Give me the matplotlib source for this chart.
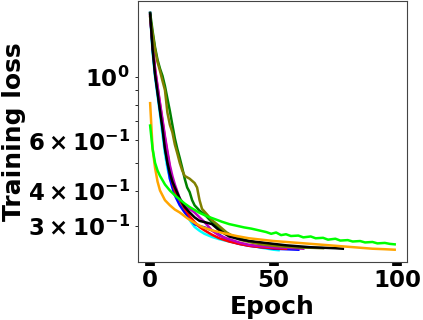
import matplotlib
matplotlib.use('Agg')
import matplotlib.pyplot as plt

plt.rcParams['font.weight'] = 'bold'
plt.rcParams['axes.labelweight'] = 'bold'
plt.rcParams['mathtext.default'] = 'regular'

# epochs / losses, one run per colour
ep_cyan = [0, 1, 2, 3, 4, 5, 6, 7, 8, 9, 10, 12, 14, 16, 18, 20, 22, 25, 28, 32, 36, 40, 45, 50, 52]
loss_cyan = [1.66, 1.22, 1.0, 0.86, 0.74, 0.63, 0.54, 0.48, 0.44, 0.42, 0.40, 0.37, 0.34, 0.315, 0.298,
             0.289, 0.282, 0.275, 0.27, 0.265, 0.261, 0.257, 0.252, 0.248, 0.247]

ep_blue = [0, 1, 2, 3, 4, 5, 6, 7, 8, 9, 10, 12, 14, 16, 18, 20, 22, 25, 28, 32, 36, 40, 45, 50, 55, 60]
loss_blue = [1.68, 1.27, 1.03, 0.89, 0.77, 0.67, 0.57, 0.50, 0.44, 0.41, 0.385, 0.355, 0.335, 0.32, 0.305,
             0.30, 0.297, 0.29, 0.28, 0.266, 0.26, 0.256, 0.253, 0.25, 0.249, 0.248]

ep_red = [0, 1, 2, 3, 4, 5, 6, 7, 8, 9, 10, 12, 14, 16, 18, 20, 22, 25, 28, 32, 36, 40, 45, 50, 55]
loss_red = [1.65, 1.3, 1.06, 0.92, 0.80, 0.70, 0.61, 0.54, 0.48, 0.43, 0.40, 0.37, 0.345, 0.325, 0.31,
            0.298, 0.29, 0.28, 0.272, 0.265, 0.26, 0.256, 0.253, 0.251, 0.25]

ep_magenta = [0, 1, 2, 3, 4, 5, 6, 7, 8, 9, 10, 12, 14, 16, 18, 20, 22, 25, 28, 32, 36, 40, 45, 50, 55, 62]
loss_magenta = [1.64, 1.3, 1.07, 0.93, 0.81, 0.71, 0.62, 0.55, 0.49, 0.45, 0.42, 0.375, 0.355, 0.345, 0.335,
                0.322, 0.31, 0.29, 0.278, 0.27, 0.263, 0.258, 0.255, 0.253, 0.252, 0.25]

ep_green = [0, 1, 2, 3, 4, 5, 6, 7, 8, 9, 10, 11, 12, 13, 14, 15, 16, 17, 18, 20, 22, 25, 28, 32, 36, 40,
            45, 50, 55, 60, 65]
loss_green = [1.68, 1.45, 1.27, 1.15, 1.07, 1.01, 0.93, 0.84, 0.76, 0.68, 0.61, 0.56, 0.52, 0.48, 0.44,
              0.41, 0.395, 0.37, 0.355, 0.34, 0.33, 0.31, 0.295, 0.28, 0.272, 0.266, 0.261, 0.258,
              0.255, 0.253, 0.252]

ep_olive = [0, 1, 2, 3, 4, 5, 6, 7, 8, 9, 10, 11, 12, 13, 14, 16, 18, 19, 20, 21, 23, 25, 27, 29, 31, 34,
            37, 41, 45, 50, 55, 60, 65, 70]
loss_olive = [1.62, 1.42, 1.25, 1.13, 1.05, 0.97, 0.90, 0.75, 0.68, 0.64, 0.58, 0.54, 0.50, 0.47, 0.45,
              0.44, 0.425, 0.41, 0.37, 0.345, 0.33, 0.315, 0.305, 0.295, 0.285, 0.275, 0.268, 0.263,
              0.259, 0.256, 0.254, 0.253, 0.252, 0.251]

ep_black = [0, 1, 2, 3, 4, 5, 6, 7, 8, 9, 10, 12, 14, 16, 18, 20, 22, 25, 28, 32, 36, 40, 45, 50, 55, 60,
            65, 70, 75, 78]
loss_black = [1.67, 1.25, 1.02, 0.88, 0.76, 0.66, 0.56, 0.50, 0.46, 0.43, 0.41, 0.375, 0.35, 0.335, 0.322,
              0.313, 0.31, 0.305, 0.29, 0.276, 0.27, 0.266, 0.263, 0.26, 0.257, 0.255, 0.253, 0.252,
              0.251, 0.25]

ep_orange = [0, 1, 2, 3, 4, 6, 8, 10, 12, 15, 18, 21, 25, 30, 35, 40, 45, 50, 55, 60, 65, 70, 75, 80, 85,
             90, 95, 99]
loss_orange = [0.81, 0.56, 0.48, 0.43, 0.40, 0.37, 0.355, 0.343, 0.335, 0.32, 0.308, 0.298, 0.29, 0.283,
               0.277, 0.272, 0.269, 0.266, 0.264, 0.262, 0.26, 0.258, 0.256, 0.254, 0.252, 0.25, 0.249,
               0.248]

ep_lime = [0, 1, 2, 3, 4, 5, 6, 8, 10, 12, 14, 16, 18, 20, 23, 26, 29, 32, 35, 38, 41, 44, 47, 49, 51, 53,
           55, 57, 60, 62, 65, 67, 70, 72, 75, 77, 80, 82, 85, 87, 90, 92, 95, 97, 99]
loss_lime = [0.676, 0.56, 0.50, 0.47, 0.45, 0.435, 0.42, 0.40, 0.385, 0.372, 0.36, 0.35, 0.342, 0.334,
             0.325, 0.318, 0.311, 0.305, 0.301, 0.297, 0.294, 0.29, 0.286, 0.282, 0.285, 0.279, 0.281,
             0.277, 0.278, 0.274, 0.276, 0.272, 0.273, 0.269, 0.271, 0.267, 0.268, 0.265, 0.266, 0.263,
             0.264, 0.261, 0.262, 0.26, 0.259]

runs = [(ep_cyan, loss_cyan, 'cyan'), (ep_blue, loss_blue, 'blue'), (ep_red, loss_red, 'red'),
        (ep_magenta, loss_magenta, 'm'), (ep_green, loss_green, 'green'), (ep_olive, loss_olive, 'olive'),
        (ep_black, loss_black, 'black'), (ep_orange, loss_orange, 'orange'), (ep_lime, loss_lime, 'lime')]

fig = plt.figure(figsize=(4.23, 3.2), dpi=100)
ax = fig.add_axes([0.326, 0.181, 0.636, 0.816])

for ep, loss, c in runs:
    ax.plot(ep, loss, color=c, lw=1.8)

ax.set_yscale('log')
ax.set_xlabel('Epoch', fontsize=18, fontweight='bold', labelpad=2)
ax.set_ylabel('Training loss', fontsize=18, fontweight='bold', labelpad=2)
ax.tick_params(axis='both', which='both', labelsize=16.5)
ax.tick_params(axis='x', which='major', length=3, width=7, pad=2)
ax.tick_params(axis='y', which='major', length=2.5, width=0.6)
ax.tick_params(axis='y', which='minor', length=2, width=0.6)
for s in ax.spines.values():
    s.set_color('#444444')

fig.savefig('out.png', dpi=100)
